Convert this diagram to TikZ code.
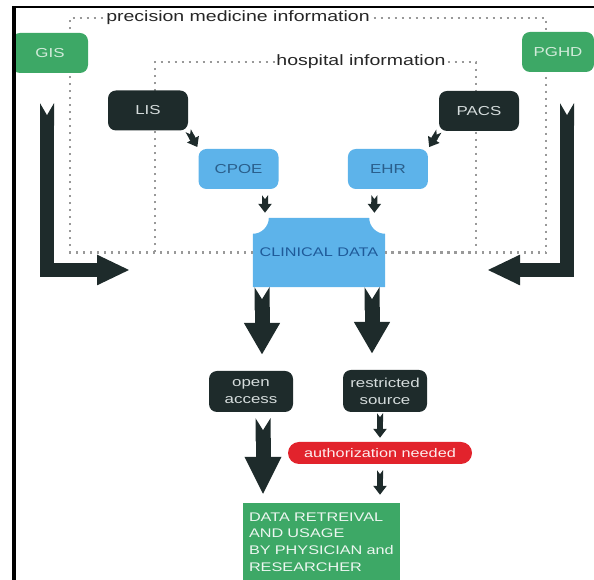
\documentclass[tikz,border=0pt]{standalone}
\usepackage{fontspec}
\setmainfont{Liberation Sans}[FakeStretch=1.3]
\usepackage{tikz}
\usetikzlibrary{positioning,calc,arrows.meta,backgrounds}

\definecolor{darkbox}{HTML}{1E2B2B}
\definecolor{darktext}{HTML}{D5DCDC}
\definecolor{srcgreen}{HTML}{3DA866}
\definecolor{srctext}{HTML}{D2EBDA}
\definecolor{recblue}{HTML}{5DB3EA}
\definecolor{rectext}{HTML}{2A5F8C}
\definecolor{cdtext}{HTML}{1F5A99}
\definecolor{authred}{HTML}{E2232C}

\begin{document}
\begin{tikzpicture}[x=1pt, y=1pt,
    box/.style={rounded corners=8pt, minimum width=80pt, minimum height=40pt, inner sep=2pt, align=center, font=\fontsize{13}{17}\selectfont},
    srcbox/.style={box, fill=srcgreen, text=srctext},
    sysbox/.style={box, fill=darkbox, text=darktext},
    recbox/.style={box, fill=recblue, text=rectext},
    authbox/.style={box, rounded corners=11pt, fill=authred, text=white!92!authred, minimum width=184pt, minimum height=22pt, font=\fontsize{12.5}{14}\selectfont},
    outbox/.style={fill=srcgreen, text=white!90!srcgreen, minimum width=157pt, minimum height=78pt, text width=145pt, inner sep=6pt, align=left, font=\fontsize{12.5}{16.7}\selectfont},
    dotline/.style={gray!80, line width=2.5pt, dash pattern=on 2pt off 5pt},
    dotlabel/.style={fill=white, text=black!85, inner sep=1.5pt, font=\fontsize{15}{17}\selectfont},
    bigarrow/.style={darkbox, line width=15pt, {Triangle Cap[reversed, length=12pt]}-{Triangle[width=34pt, length=32pt]}},
    smallarrow/.style={darkbox, line width=6pt, {Triangle Cap[reversed, length=4pt]}-{Triangle[width=13pt, length=9pt]}}]
\useasboundingbox (0,0) rectangle (594,580);

\node[minimum width=132pt, minimum height=69pt, text=cdtext, font=\fontsize{12.5}{14}\selectfont] (cd) at (319,327.5) {CLINICAL DATA};
\begin{scope}[on background layer]
\fill[recblue] (cd.south west) -- ([yshift=-16pt]cd.north west) arc[start angle=270, end angle=360, radius=16pt]
    -- ([xshift=-16pt]cd.north east) arc[start angle=180, end angle=270, radius=16pt] -- (cd.south east) -- cycle;
\end{scope}

% information areas
\draw[dotline] (cd.west) -| (70,562) -| (546,327.5) -- (cd.east);
\draw[dotline] (cd.west) -| (155,518) -| (476,327.5) -- (cd.east);
\node[dotlabel] (pmi) at (238,562) {precision medicine information};
\node[dotlabel] (hi) at (361,518) {hospital information};

\node[srcbox, minimum width=76pt] (gis) at (50,527) {GIS};
\node[srcbox, minimum width=72pt] (pghd) at (558,528) {PGHD};
\node[sysbox] (lis) at (148,469.5) {LIS};
\node[sysbox] (pacs) at (479,469) {PACS};
\node[recbox] (cpoe) at (238.5,411) {CPOE};
\node[recbox, right=69pt of cpoe] (ehr) {EHR};

\node[sysbox, minimum width=84pt, minimum height=41pt] (open) at (251,188.5) {open\\access};
\node[sysbox, minimum width=84pt, minimum height=42pt] (restr) at (385,189) {restricted\\source};
\node[authbox] (auth) at (380,127) {authorization needed};
\node[outbox] (out) at (321.5,38) {DATA RETREIVAL\\AND USAGE\\BY PHYSICIAN and\\RESEARCHER};

\coordinate (gisend) at (130,310);
\coordinate (pghdend) at (487,310);
\draw[bigarrow, line width=14pt, {Triangle Cap[reversed, length=12pt]}-{Triangle[width=28pt, length=33pt]}] ([xshift=-3pt, yshift=-30pt]gis.south) |- (gisend);
\draw[bigarrow, line width=14pt, {Triangle Cap[reversed, length=12pt]}-{Triangle[width=28pt, length=33pt]}] ([xshift=9pt, yshift=-31pt]pghd.south) |- (pghdend);

\draw[smallarrow, shorten >=2pt] (lis.south east) -- (cpoe.north west);
\draw[smallarrow, shorten >=2pt] (pacs.south west) -- (ehr.north east);
\draw[smallarrow, shorten <=6pt, shorten >=5pt] ([xshift=26.5pt]cpoe.south) -- ([xshift=26.5pt]cpoe.south |- cd.north);
\draw[smallarrow, shorten <=6pt, shorten >=5pt] ([xshift=-13.5pt]ehr.south) -- ([xshift=-13.5pt]ehr.south |- cd.north);

\draw[bigarrow, shorten >=16pt] ([xshift=-57pt]cd.south) -- ([xshift=-57pt]cd.south |- open.north);
\draw[bigarrow, shorten >=16pt] ([xshift=53pt]cd.south) -- ([xshift=53pt]cd.south |- restr.north);
\draw[bigarrow, shorten <=6pt, shorten >=8pt, {Triangle Cap[reversed, length=12pt]}-{Triangle[width=34pt, length=38pt]}] ([xshift=12pt]open.south) -- ([xshift=12pt]open.south |- out.north);
\draw[smallarrow, shorten <=1pt, shorten >=4pt] ([xshift=-5pt]restr.south) -- ([xshift=-5pt]restr.south |- auth.north);
\draw[smallarrow, shorten <=6pt, shorten >=8pt] (auth.south) -- (auth.south |- out.north);

% frame
\draw[line width=3.5pt] (14,0) -- (14,573);
\draw[line width=1.5pt] (12,573) -- (594,573);
\end{tikzpicture}
\end{document}
